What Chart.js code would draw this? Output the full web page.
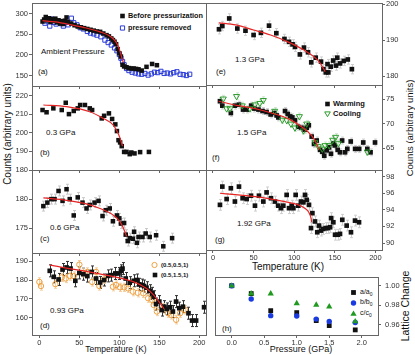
<!DOCTYPE html>
<html><head><meta charset="utf-8">
<script src="https://cdn.jsdelivr.net/npm/chart.js@4.4.1/dist/chart.umd.min.js"></script>
<style>
html,body{margin:0;padding:0;background:#fff;}
#wrap{position:relative;width:415px;height:355px;overflow:hidden;font-family:"Liberation Sans",Arial,sans-serif;color:#111;}
canvas{position:absolute;left:0;top:0;}
.t{position:absolute;white-space:nowrap;line-height:1;transform:translateY(-50%);}
.c{transform:translate(-50%,-50%);}
.v{transform:translate(-50%,-50%) rotate(-90deg);}
.lb{font-weight:bold;}
sub{font-size:70%;vertical-align:-2px;}
</style></head><body><div id="wrap">
<div class="t" style="left:38px;top:72px;font-size:8px">(a)</div>
<div class="t" style="left:41px;top:52px;font-size:8px">Ambient Pressure</div>
<div class="t" style="left:40px;top:153px;font-size:8px">(b)</div>
<div class="t" style="left:46px;top:133px;font-size:8px">0.3 GPa</div>
<div class="t" style="left:40px;top:239px;font-size:8px">(c)</div>
<div class="t" style="left:50px;top:228px;font-size:8px">0.6 GPa</div>
<div class="t" style="left:40px;top:326px;font-size:8px">(d)</div>
<div class="t" style="left:50px;top:311px;font-size:8px">0.93 GPa</div>
<div class="t" style="left:216px;top:72px;font-size:8px">(e)</div>
<div class="t" style="left:235px;top:60px;font-size:8px">1.3 GPa</div>
<div class="t" style="left:212px;top:158px;font-size:8px">(f)</div>
<div class="t" style="left:237px;top:133px;font-size:8px">1.5 GPa</div>
<div class="t" style="left:215px;top:240px;font-size:8px">(g)</div>
<div class="t" style="left:237px;top:224px;font-size:8px">1.92 GPa</div>
<div class="t" style="left:222px;top:329px;font-size:8px">(h)</div>
<div class="t lb" style="left:128px;top:16px;font-size:7.3px">Before pressurization</div>
<div class="t lb" style="left:128px;top:28px;font-size:7.3px">pressure removed</div>
<div class="t lb" style="left:333px;top:104px;font-size:7.5px">Warming</div>
<div class="t lb" style="left:333px;top:113.5px;font-size:7.5px">Cooling</div>
<div class="t lb" style="left:161px;top:265px;font-size:6px">(0.5,0.5,1)</div>
<div class="t lb" style="left:161px;top:275px;font-size:6px">(0.5,1.5,1)</div>
<div class="t" style="left:360px;top:292.5px;font-size:7px">a/a<sub>0</sub></div>
<div class="t" style="left:360px;top:303px;font-size:7px">b/b<sub>0</sub></div>
<div class="t" style="left:360px;top:313.5px;font-size:7px">c/c<sub>0</sub></div>
<div class="t c" style="left:116px;top:349px;font-size:8.5px">Temperature (K)</div>
<div class="t c" style="left:288px;top:267px;font-size:10px">Temperature (K)</div>
<div class="t c" style="left:301px;top:349px;font-size:9px">Pressure (GPa)</div>
<div class="t v" style="left:8px;top:134px;font-size:10px">Counts (arbitrary units)</div>
<div class="t v" style="left:410px;top:128px;font-size:9.5px">Counts (arbitrary units)</div>
<div class="t v" style="left:405px;top:306px;font-size:10.5px">Lattice Change</div>
</div>
<script>
const FF = '"Liberation Sans", Arial, sans-serif';
const tempTicks = [0, 50, 100, 150, 200];

// (a) ambient pressure
const aBefore = [[4,281],[6,286],[8,292],[10,284],[12,289],[14,280],[16,287],[18,283],[20,288],[22,279],[24,284],[26,276],[28,282],[30,275],[32,283],[34,291],[36,280],[40,276],[44,272],[48,269],[52,267],[56,265],[60,263],[64,261],[68,259],[72,257],[76,256],[80,252],[84,248],[87,245],[90,240],[92,236],[94,232],[96,226],[98,214],[100,204],[102,196],[104,176],[106,172],[109,170],[112,168],[115,167],[118,167],[121,166],[124,165],[128,162],[134,171],[141,178],[147,175]];
const aRemoved = [[7,277],[10,282],[13,270],[15,287],[18,279],[21,275],[24,281],[27,276],[30,270],[33,279],[36,273],[40,289],[43,278],[47,273],[51,266],[55,263],[60,257],[64,253],[68,251],[72,248],[77,244],[82,236],[86,230],[90,224],[94,217],[97,210],[100,201],[102,192],[104,184],[106,176],[109,167],[112,162],[116,158],[120,156],[124,154],[128,153],[132,155],[136,151],[140,154],[144,158],[148,157],[152,160],[156,155],[160,156],[164,154],[168,157],[172,159],[176,153],[180,152],[184,150],[188,153]];
const aFit = [[4,283],[20,280],[40,273],[55,267],[76,256],[88,246],[94,236],[98,224],[101,208],[103,194],[105,182]];
const aTicks = [150, 200, 250, 300];

// (b) 0.3 GPa
const bData = [[4,212.2],[9,211],[17.5,213.1],[28,212.2],[33,216.1],[37,210],[43,211.7],[48,213.1],[51,214.9],[57,214.9],[63,213.1],[66,212.2],[78,207.7],[81,209.1],[87,210.4],[91,207.4],[95,204.5],[97,200.9],[99,196],[101,194.8],[103,192.8],[106,189.7],[109,189.7],[113,188.5],[115,189.4],[119,188.9],[126,189.6],[137,189.7]];
const bFit = [[5,214.9],[34,214],[63,211.3],[80,207.7],[92.5,204.1],[97.5,200.5],[101,197],[104,192.8]];
const bTicks = [180, 190, 200, 210, 220];

// (c) 0.6 GPa
const cData = [[5,178.8],[10,179.4],[15,180],[19,180],[24,181.4],[29,179.7],[34,181.7],[38,180],[43,177.2],[48,180.3],[54,179.4],[59,178.4],[63,179],[69,179.4],[74,179.7],[79,177.1],[83,178.1],[88,178.4],[92,176.2],[97,177.2],[100,176.7],[102,175.8],[106,175.9],[108,173.9],[110.5,172.8],[113,173.3],[117,173.2],[118.5,174.4],[122,172.5],[124,173.5],[129,173.5],[133,174.1],[138,173.5],[146,173.8],[155,171.9],[166,173.3]];
const cFit = [[5,180.2],[34,179.8],[55,179.3],[76,178.4],[93,177.2],[101,176.1],[107,174.4],[109,173.6]];
const cTicks = [175, 180];

// (d) 0.93 GPa
const dQ1 = [[0,179],[2,176.8],[20,177.8],[28,181.4],[33,180.8],[38,182.1],[43,182.1],[50,188.2],[55,183.8],[60,184.3],[66,179],[71,184.3],[75,176.8],[81,180.3],[92,176.4],[96,177.3],[101,176.1],[106,176.1],[111,175.5],[117,173.8],[123,173.2],[130,172.9],[136,170.3],[141,169.4],[143,166.7],[147,163.2],[155,165.3],[161,162.3],[165,161.4],[171,158.8],[176,162.3],[182,164.1]];
const dQ2 = [[13,184.9],[18,181.7],[24,180.3],[29,185.6],[34,186.7],[39,186.1],[45,179.6],[50,183.8],[55,183.1],[60,182.1],[65.5,184.3],[71,180.8],[76,178.7],[81,180],[86,182.2],[90,182.6],[95,183.5],[99,183.5],[102,184.9],[104,186.1],[108,180.8],[113,178.6],[118,179.6],[122,180],[125,177.7],[128,177.3],[131,176.8],[134,175.9],[138,174.3],[141,172.9],[143,171.1],[146,167.2],[150,168.5],[153,164],[156.5,165.8],[159.5,164.6],[163.5,165.5],[167,163.2],[171,168.5],[175,165],[179.5,165.8],[186.5,162.3],[191,158.4],[196,158.4],[206,165.5]];
const dFit = [[13,187.9],[55,184.9],[97,181.4],[118,179],[134,175.5],[143,172],[151,167.6],[156,164.6]];
const dTicks = [160, 170, 180, 190];

// (e) 1.3 GPa
const eData = [[7.4,193],[11.5,193.9],[20,196],[30,193.2],[40,192.6],[50,191.4],[59,192],[69,194],[78,191.9],[88,190.3],[93.6,189.5],[98,188.8],[101,188.1],[107,186],[112,187.9],[117,186.6],[121,183.8],[126.5,185.1],[133,184],[136,181.9],[139,181],[142,181],[141,183.3],[145,182.6],[148,184.3],[151.5,182.9],[153,185.1],[156.5,183.5],[161,184.2],[166,184.6],[171,181.9]];
const eFit = [[7,194.8],[28,194.2],[50,192.8],[71,191.4],[92,189.5],[112,187.2],[129,184.4],[136,182.1],[138,181.2]];
const eTicks = [180, 190, 200];

// (f) 1.5 GPa
const fWarm = [[8.6,74.6],[11.5,73.7],[22,72.2],[27,73.7],[32,73.9],[37,72.9],[41.5,72.9],[47,73.7],[51,73.1],[56,72.9],[61,72.6],[66,72.4],[71,71.9],[75.5,72.2],[78.4,71.7],[80.5,71.3],[88.7,72.6],[92,72],[95,71.5],[97.7,71.3],[101,70.7],[105,69.4],[109,69.2],[113,68.8],[115.4,69.2],[118,69.7],[121.5,67.4],[124.4,65.9],[127.7,66.6],[131.8,64.7],[134.6,64.3],[137,63.5],[140,64.6],[143,65.2],[145.3,63.9],[148,66],[150,65.6],[153.5,64.7],[156.4,64.2],[159,66.6],[162.6,64.2],[165.4,64.9],[169.6,66.4],[175,64.9],[180,64.9],[185,66.2],[190,64.9],[194,64.2],[199.5,66.2]];
const fCool = [[12.7,75.1],[16.8,73.1],[21,73.1],[29,75.6],[36,73.7],[45.5,73.1],[51.7,73.9],[57.8,74.2],[62,74.8],[76,72.6],[85.4,70.8],[90.8,70.7],[96,70],[101,69.2],[106.4,71.5],[111.3,68.6],[115.4,70],[125.6,66.2],[129.7,65.4],[134.6,64.9],[138,65.6],[143,65.6],[147.4,66.7],[151,67.3],[154.4,66],[190,64.3]];
const fFit = [[7,74.6],[31,73.7],[52,73.1],[72,72.2],[93,71],[109,69.4],[121.5,67.6],[127.7,65.9],[130.6,64.7]];
const fTicks = [65, 70, 75];

// (g) 1.92 GPa
const gData = [[8.6,94.6],[11.5,96.8],[16.8,95.3],[22,96.6],[27,95],[32,96.8],[36.5,95.4],[41.5,95.3],[46.8,95.7],[51.7,94.5],[56.6,95.7],[62,95],[66,96.1],[71.4,95.4],[76.3,95],[80.4,94.5],[83.7,94.2],[86.6,94.5],[90.7,95.8],[93.6,94.2],[97,94.5],[99,94.2],[101.8,95.8],[105,94.5],[108.4,95],[111.3,94.9],[113.3,95.8],[115.4,95.2],[118.2,94.6],[122.4,93.6],[120.7,91.8],[125.6,92.6],[128.4,91.3],[130.5,92.1],[133,91.5],[135.8,91.7],[138.8,91.8],[141.3,91.8],[144.2,91.9],[145.4,93],[148.2,92.5],[150.3,91],[153.5,91],[156.4,91.1],[159.2,92.8],[164.6,92.1],[169.9,91.3],[174.9,92.7],[179.8,92.5]];
const gFit = [[8.6,96],[31,95.8],[52,95.6],[72,95.3],[93,94.9],[105,94.6],[113,94.2],[118,93.7],[120.7,93],[121.5,92.5]];
const gTicks = [90, 92, 94, 96, 98];

// (h) lattice change vs pressure
const pressures = [0, 0.3, 0.6, 1.0, 1.3, 1.5, 1.9];
const aRatio = [1.000, 0.992, 0.9746, 0.9726, 0.9645, 0.9594, 0.955];
const bRatio = [1.000, 0.9865, 0.9695, 0.9692, 0.966, 0.9635, 0.9625];
const cRatio = [1.000, 0.992, 0.992, 0.982, 0.9804, 0.9787, 0.9635];
const hXTicks = [0, 0.5, 1.0, 1.5, 2.0];
const hYTicks = [0.96, 0.98, 1.00];

const W = 415, H = 355;
const pts = arr => arr.map(([x, y]) => ({x, y}));
const zip = (xs, ys) => xs.map((x, i) => ({x, y: ys[i]}));
const RED = '#e82525';

function marks(style, color, r, open, extra) {
  return Object.assign({pointStyle: style, pointRadius: r, backgroundColor: open ? 'rgba(0,0,0,0)' : color,
    borderColor: color, borderWidth: open ? 1 : 0, showLine: false}, extra || {});
}
function fitLine(data) {
  return {data: pts(data), showLine: true, pointRadius: 0, borderColor: RED, borderWidth: 1.2, fill: false, cubicInterpolationMode: 'monotone'};
}

const errPlugin = {
  id: 'errbars',
  beforeDatasetsDraw(chart) {
    const ctx = chart.ctx, ca = chart.chartArea;
    ctx.save();
    ctx.beginPath(); ctx.rect(ca.left, ca.top, ca.right - ca.left, ca.bottom - ca.top); ctx.clip();
    chart.data.datasets.forEach((ds, i) => {
      if (!ds.err) return;
      const meta = chart.getDatasetMeta(i), ys = chart.scales.y;
      ctx.strokeStyle = ds.errColor; ctx.lineWidth = 1;
      ds.data.forEach((p, j) => {
        const el = meta.data[j]; if (!el) return;
        const x = Math.round(el.x) + 0.5;
        const y1 = ys.getPixelForValue(p.y - ds.err), y2 = ys.getPixelForValue(p.y + ds.err);
        ctx.beginPath();
        ctx.moveTo(x, y1); ctx.lineTo(x, y2);
        ctx.moveTo(x - 1.5, y1); ctx.lineTo(x + 1.5, y1);
        ctx.moveTo(x - 1.5, y2); ctx.lineTo(x + 1.5, y2);
        ctx.stroke();
      });
    });
    ctx.restore();
  }
};
const framePlugin = {
  id: 'frame',
  afterDraw(chart) {
    const ctx = chart.ctx, ca = chart.chartArea;
    ctx.save(); ctx.strokeStyle = '#666'; ctx.lineWidth = 1;
    ctx.strokeRect(Math.round(ca.left) + 0.5, Math.round(ca.top) + 0.5, Math.round(ca.right - ca.left), Math.round(ca.bottom - ca.top));
    ctx.restore();
  }
};
function drawMark(ctx, m) {
  ctx.save(); ctx.beginPath();
  const r = m.r;
  if (m.s === 'rect') ctx.rect(m.x - r, m.y - r, 2 * r, 2 * r);
  else if (m.s === 'circle') ctx.arc(m.x, m.y, r, 0, Math.PI * 2);
  else if (m.s === 'tri') { ctx.moveTo(m.x, m.y - r); ctx.lineTo(m.x + r * 0.87, m.y + r * 0.5); ctx.lineTo(m.x - r * 0.87, m.y + r * 0.5); ctx.closePath(); }
  else if (m.s === 'triDown') { ctx.moveTo(m.x, m.y + r); ctx.lineTo(m.x + r * 0.87, m.y - r * 0.5); ctx.lineTo(m.x - r * 0.87, m.y - r * 0.5); ctx.closePath(); }
  if (m.fill) { ctx.fillStyle = m.fill; ctx.fill(); }
  if (m.stroke) { ctx.strokeStyle = m.stroke; ctx.lineWidth = 1; ctx.stroke(); }
  ctx.restore();
}

function panel(cfg) {
  const c = document.createElement('canvas');
  c.width = W; c.height = H; c.style.width = W + 'px'; c.style.height = H + 'px';
  document.getElementById('wrap').appendChild(c);
  const b = cfg.box;
  const left = cfg.ypos === 'left';
  const yw = left ? b[0] : W - b[2];
  const xh = Math.min(18, H - b[3]);
  const tickFont = {size: 7.5, family: FF};
  const zeroPad = s => { s.paddingTop = 0; s.paddingBottom = 0; s.paddingLeft = 0; s.paddingRight = 0; };
  const legendPlugin = {id: 'legendMarks', afterDraw(chart) { (cfg.legend || []).forEach(m => drawMark(chart.ctx, m)); }};
  return new Chart(c, {
    type: 'scatter',
    data: {datasets: cfg.datasets},
    plugins: [errPlugin, framePlugin, legendPlugin],
    options: {
      responsive: false, animation: false, devicePixelRatio: 1, events: [],
      layout: {autoPadding: false, padding: {left: left ? 0 : b[0], top: b[1], right: left ? W - b[2] : 0, bottom: H - b[3] - xh}},
      plugins: {legend: {display: false}, tooltip: {enabled: false}},
      scales: {
        x: {
          type: 'linear', position: 'bottom', min: cfg.x[0], max: cfg.x[1],
          afterFit: s => { s.height = xh; zeroPad(s); },
          afterBuildTicks: s => { s.ticks = cfg.xt.map(v => ({value: v})); },
          border: {display: false},
          grid: {drawOnChartArea: false, drawTicks: true, tickLength: 3, tickColor: '#666'},
          ticks: {display: !!cfg.xl, autoSkip: false, maxRotation: 0, padding: cfg.xpad, font: tickFont, color: '#333',
            callback: cfg.fx || (v => String(v))}
        },
        y: {
          type: 'linear', position: cfg.ypos, min: cfg.y[0], max: cfg.y[1],
          afterFit: s => { s.width = yw; zeroPad(s); },
          afterBuildTicks: s => { s.ticks = cfg.yt.map(v => ({value: v})); },
          border: {display: false},
          grid: {drawOnChartArea: false, drawTicks: true, tickLength: 3, tickColor: '#666'},
          ticks: {autoSkip: false, padding: cfg.ypad, font: tickFont, color: '#333',
            callback: cfg.fy || (v => String(v))}
        }
      }
    }
  });
}

const LX = [-9.2, 208.4], RX = [-8.6, 208.1];
const BLK = '#111';

panel({box: [32, 3, 206, 86], x: LX, y: [124.5, 326], xt: tempTicks, yt: aTicks, ypos: 'left', ypad: 1, xpad: 0,
  datasets: [fitLine(aFit),
    Object.assign({data: pts(aBefore)}, marks('rect', BLK, 3.2, false)),
    Object.assign({data: pts(aRemoved)}, marks('rect', '#2a3bd8', 3.0, true))],
  legend: [{x: 122.5, y: 16, r: 2.3, s: 'rect', fill: BLK}, {x: 122.5, y: 28, r: 2.1, s: 'rect', stroke: '#2a3bd8'}]});

panel({box: [32, 86, 206, 170], x: LX, y: [180, 225.1], xt: tempTicks, yt: bTicks, ypos: 'left', ypad: 1, xpad: 0,
  datasets: [fitLine(bFit), Object.assign({data: pts(bData)}, marks('rect', BLK, 3.2, false))]});

panel({box: [32, 170, 206, 253], x: LX, y: [170.75, 185], xt: tempTicks, yt: cTicks, ypos: 'left', ypad: 1, xpad: 0,
  datasets: [fitLine(cFit), Object.assign({data: pts(cData), err: 0.85, errColor: '#c8c8c8'}, marks('rect', BLK, 3.2, false))]});

panel({box: [32, 253, 206, 335], x: LX, y: [150.7, 194.4], xt: tempTicks, yt: dTicks, ypos: 'left', ypad: 1, xpad: 0, xl: true,
  datasets: [fitLine(dFit),
    Object.assign({data: pts(dQ2), err: 3.2, errColor: '#333'}, marks('rect', BLK, 3.3, false)),
    Object.assign({data: pts(dQ1), err: 2.2, errColor: '#f3cfa0'}, marks('circle', '#f0a040', 2.7, true))],
  legend: [{x: 154.5, y: 265, r: 2.6, s: 'circle', stroke: '#f0a040'}, {x: 155, y: 275, r: 2.3, s: 'rect', fill: BLK}]});

panel({box: [206, 3, 382, 85], x: RX, y: [177.5, 200.3], xt: tempTicks, yt: eTicks, ypos: 'right', ypad: 1, xpad: 0,
  datasets: [fitLine(eFit), Object.assign({data: pts(eData), err: 1.3, errColor: '#cfcfcf'}, marks('rect', BLK, 3.3, false))]});

panel({box: [206, 85, 382, 170], x: RX, y: [60.6, 77.9], xt: tempTicks, yt: fTicks, ypos: 'right', ypad: 1, xpad: 0,
  datasets: [fitLine(fFit),
    Object.assign({data: pts(fCool), err: 0.7, errColor: '#cfe6cf'}, marks('triangle', '#2a9a2a', 3.5, true, {rotation: 180})),
    Object.assign({data: pts(fWarm), err: 0.7, errColor: '#cfcfcf'}, marks('rect', BLK, 3.3, false))],
  legend: [{x: 327.5, y: 104, r: 2.3, s: 'rect', fill: BLK}, {x: 327.5, y: 113.5, r: 3.2, s: 'triDown', stroke: '#2a9a2a'}]});

panel({box: [206, 170, 382, 250], x: RX, y: [89.16, 98.8], xt: tempTicks, yt: gTicks, ypos: 'right', ypad: 1, xpad: 0, xl: true,
  datasets: [fitLine(gFit), Object.assign({data: pts(gData), err: 0.65, errColor: '#cfcfcf'}, marks('rect', BLK, 3.3, false))]});

panel({box: [215, 277, 378, 335], x: [-0.257, 2.25], y: [0.9498, 1.0089], xt: hXTicks, yt: hYTicks, ypos: 'right', ypad: 4, xpad: 0, xl: true,
  fx: v => v.toFixed(1), fy: v => v.toFixed(2),
  datasets: [
    Object.assign({data: zip(pressures, cRatio)}, marks('triangle', '#1f9a1f', 3.6, false)),
    Object.assign({data: zip(pressures, bRatio)}, marks('circle', '#1a3be0', 2.7, false)),
    Object.assign({data: zip(pressures, aRatio)}, marks('rect', BLK, 3.4, false))],
  legend: [{x: 353.5, y: 292.5, r: 2.4, s: 'rect', fill: BLK}, {x: 353.5, y: 303, r: 2.7, s: 'circle', fill: '#1a3be0'}, {x: 353.5, y: 314, r: 3.6, s: 'tri', fill: '#1f9a1f'}]});
</script>
</body></html>
